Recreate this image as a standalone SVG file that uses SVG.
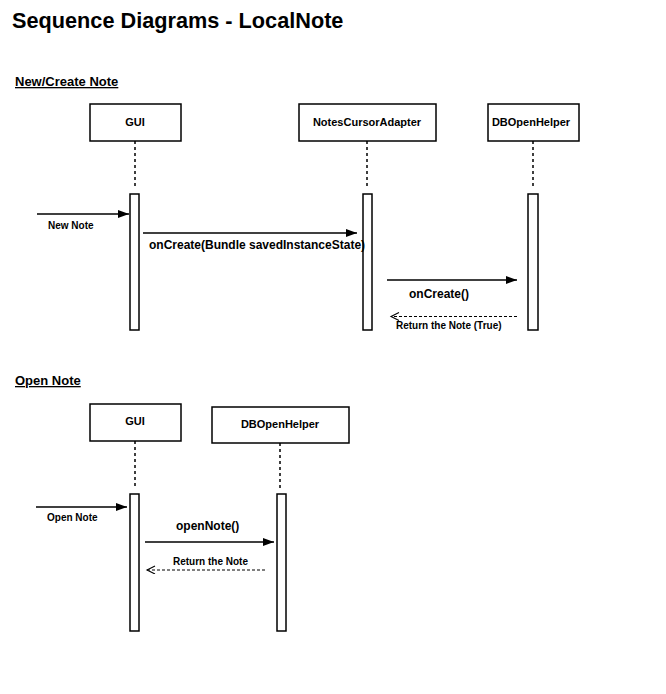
<svg xmlns="http://www.w3.org/2000/svg" width="666" height="694" viewBox="0 0 666 694">
<style>
text{font-family:"Liberation Sans",Arial,Helvetica,sans-serif;font-weight:bold;fill:#000}
.box{fill:#fff;stroke:#000;stroke-width:1.5}
.act{fill:#fff;stroke:#000;stroke-width:1.5}
.life{stroke:#000;stroke-width:1.5;stroke-dasharray:3 3;fill:none}
.msg{stroke:#000;stroke-width:1.3;fill:none;marker-end:url(#solid)}
.ret{stroke:#000;stroke-width:1.1;fill:none;stroke-dasharray:3 2;marker-end:url(#open)}
.lbl{font-size:11px;text-anchor:middle}
.h{font-size:13px;text-decoration:underline}
</style>
<defs>
<marker id="solid" markerUnits="userSpaceOnUse" markerWidth="12" markerHeight="10" refX="11" refY="4" orient="auto">
<path d="M0,0 L11,4 L0,8 Z" fill="#000"/>
</marker>
<marker id="open" markerUnits="userSpaceOnUse" markerWidth="12" markerHeight="10" refX="9" refY="4" orient="auto">
<path d="M1,0 L9,4 L1,8" fill="none" stroke="#000" stroke-width="1.1"/>
</marker>
</defs>
<rect width="666" height="694" fill="#fff"/>
<text x="12" y="28" font-size="21.7">Sequence Diagrams - LocalNote</text>
<text class="h" x="15" y="86">New/Create Note</text>
<text class="h" x="15" y="385">Open Note</text>

<g id="gui1">
<rect class="box" x="90" y="104" width="91" height="37"/>
<text class="lbl" x="135" y="126">GUI</text>
<line class="life" x1="135" y1="141" x2="135" y2="188"/>
<rect class="act" x="130" y="194" width="9" height="136"/>
</g>
<g id="nca1">
<rect class="box" x="299" y="104" width="137" height="37"/>
<text class="lbl" x="367" y="126">NotesCursorAdapter</text>
<line class="life" x1="367" y1="141" x2="367" y2="188"/>
<rect class="act" x="363" y="194" width="9" height="136"/>
</g>
<g id="db1">
<rect class="box" x="488" y="104" width="91" height="37"/>
<text class="lbl" x="531" y="126">DBOpenHelper</text>
<line class="life" x1="533" y1="141" x2="533" y2="188"/>
<rect class="act" x="528" y="194" width="10" height="136"/>
</g>

<g id="gui2">
<rect class="box" x="90" y="404" width="91" height="37"/>
<text class="lbl" x="135" y="425">GUI</text>
<line class="life" x1="135" y1="441" x2="135" y2="488"/>
<rect class="act" x="130" y="494" width="9" height="137"/>
</g>
<g id="db2">
<rect class="box" x="212" y="407" width="137" height="36"/>
<text class="lbl" x="280" y="428">DBOpenHelper</text>
<line class="life" x1="280" y1="443" x2="280" y2="488"/>
<rect class="act" x="277" y="494" width="9" height="137"/>
</g>

<g id="connectors">
<line class="msg" x1="37" y1="214" x2="129" y2="214"/>
<text x="48" y="229" font-size="10">New Note</text>
<line class="msg" x1="143" y1="233" x2="357" y2="233"/>
<text x="149" y="249" font-size="12">onCreate(Bundle savedInstanceState)</text>
<line class="msg" x1="387" y1="280" x2="517" y2="280"/>
<text x="409" y="298" font-size="12">onCreate()</text>
<line class="ret" x1="517" y1="316.5" x2="391" y2="316.5"/>
<text x="396" y="329" font-size="10">Return the Note (True)</text>

<line class="msg" x1="36" y1="507" x2="127" y2="507"/>
<text x="47" y="521" font-size="10">Open Note</text>
<line class="msg" x1="145" y1="542" x2="274" y2="542"/>
<text x="176" y="530" font-size="12">openNote()</text>
<line class="ret" x1="265" y1="570" x2="147" y2="570"/>
<text x="173" y="565" font-size="10">Return the Note</text>
</g>
</svg>
